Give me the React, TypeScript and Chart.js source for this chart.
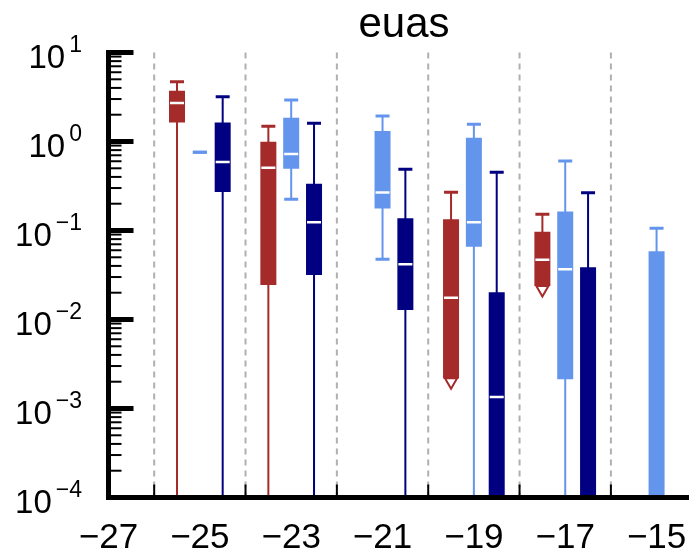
import React, { useEffect, useRef } from 'react';
import { Chart, registerables } from 'chart.js';

Chart.register(...registerables);

// value used for anything that falls below the 10^-4 floor of the axis
const LOW = 1e-5;

const titleText = 'euas';
const xTickValues = [-27, -25, -23, -21, -19, -17, -15];
const dividerValues = [-26, -24, -22, -20, -18, -16];
const yDecades = [-4, -3, -2, -1, 0, 1];

// red series
const redX = [-25.5, -23.5, -21.5, -19.5, -17.5, -15.5];
const redLow = [LOW, LOW, null, null, null, null];
const redQ1 = [1.63, 0.0244, null, 0.00218, 0.0238, null];
const redMed = [2.71, 0.508, null, 0.0175, 0.047, null];
const redQ3 = [3.72, 0.995, null, 0.134, 0.097, null];
const redHigh = [4.7, 1.48, null, 0.269, 0.152, null];
const redFloor = [null, null, null, 0.002, 0.0217, null];

// light blue series
const blueX = [-25, -23, -21, -19, -17, -15];
const blueLow = [0.757, 0.224, 0.0474, LOW, LOW, LOW];
const blueQ1 = [0.757, 0.494, 0.177, 0.0658, 0.00213, LOW];
const blueMed = [null, 0.724, 0.268, 0.124, 0.0366, LOW];
const blueQ3 = [0.757, 1.85, 1.31, 1.1, 0.163, 0.0583];
const blueHigh = [0.757, 2.93, 1.94, 1.56, 0.604, 0.106];
const blueFloor = [null, null, null, null, null, null];

// navy series
const navyX = [-24.5, -22.5, -20.5, -18.5, -16.5, -14.5];
const navyLow = [LOW, LOW, LOW, LOW, LOW, null];
const navyQ1 = [0.271, 0.0316, 0.0128, LOW, LOW, null];
const navyMed = [0.589, 0.124, 0.0417, 0.00135, LOW, null];
const navyQ3 = [1.63, 0.336, 0.137, 0.0202, 0.0386, null];
const navyHigh = [3.18, 1.6, 0.488, 0.451, 0.266, null];
const navyFloor = [null, null, null, null, null, null];

const RED = '#a52a2a';
const BLUE = '#6495ed';
const NAVY = '#000080';
const FONT = '"Liberation Sans", Arial, sans-serif';

type Arr = (number | null)[];

function seriesDatasets(color: string, xs: number[], lo: Arr, q1: Arr, med: Arr, q3: Arr, hi: Arr, floor: Arr) {
  const whisk: any[] = [];
  const box: any[] = [];
  const caps: any[] = [];
  const meds: any[] = [];
  const floors: any[] = [];
  xs.forEach((x, i) => {
    if (hi[i] != null) {
      const bottom = lo[i] != null ? lo[i] : q1[i];
      whisk.push({ x, y: [bottom, hi[i]] });
      caps.push({ x, y: hi[i] });
    }
    if (lo[i] != null) caps.push({ x, y: lo[i] });
    if (q1[i] != null && q3[i] != null) box.push({ x, y: [q1[i], q3[i]] });
    if (med[i] != null) meds.push({ x, y: med[i] });
    if (floor[i] != null) floors.push({ x, y: floor[i] });
  });
  return [
    { type: 'bar', data: whisk, backgroundColor: color, maxBarThickness: 2, grouped: false, order: 5 },
    { type: 'bar', data: box, backgroundColor: color, maxBarThickness: 16, grouped: false, order: 4 },
    { type: 'scatter', data: caps, pointStyle: 'line', pointRadius: 7, borderWidth: 3, borderColor: color, backgroundColor: color, order: 3 },
    { type: 'scatter', data: meds, pointStyle: 'line', pointRadius: 7, borderWidth: 2.5, borderColor: '#ffffff', order: 2 },
    { type: 'scatter', data: floors, pointStyle: 'triangle', rotation: 180, pointRadius: 7, borderWidth: 2, borderColor: color, backgroundColor: '#ffffff', order: 1 },
  ];
}

const axesPlugin = {
  id: 'axesDecor',
  beforeDatasetsDraw(chart: any) {
    const { ctx, chartArea } = chart;
    const xs = chart.scales.x;
    ctx.save();
    ctx.strokeStyle = '#b0b0b0';
    ctx.lineWidth = 2;
    ctx.setLineDash([6, 5]);
    dividerValues.forEach((v) => {
      const px = xs.getPixelForValue(v);
      ctx.beginPath();
      ctx.moveTo(px, chartArea.top);
      ctx.lineTo(px, chartArea.bottom);
      ctx.stroke();
    });
    ctx.restore();
  },
  afterDraw(chart: any) {
    const { ctx, chartArea } = chart;
    const xs = chart.scales.x;
    const ys = chart.scales.y;
    const L = chartArea.left;
    const B = chartArea.bottom;
    ctx.save();
    ctx.setLineDash([]);
    ctx.strokeStyle = '#000';
    ctx.lineCap = 'butt';
    // minor ticks
    ctx.lineWidth = 2;
    yDecades.slice(0, -1).forEach((e) => {
      for (let m = 2; m <= 9; m++) {
        const py = ys.getPixelForValue(m * Math.pow(10, e));
        ctx.beginPath();
        ctx.moveTo(L, py);
        ctx.lineTo(L + 13, py);
        ctx.stroke();
      }
    });
    // major ticks
    ctx.lineWidth = 5;
    yDecades.forEach((e) => {
      const py = ys.getPixelForValue(Math.pow(10, e));
      ctx.beginPath();
      ctx.moveTo(L - 2.5, py);
      ctx.lineTo(L + 25, py);
      ctx.stroke();
    });
    // axis lines
    ctx.beginPath();
    ctx.moveTo(L, chartArea.top - 2.5);
    ctx.lineTo(L, B + 2.5);
    ctx.stroke();
    ctx.beginPath();
    ctx.moveTo(L - 2.5, B);
    ctx.lineTo(chartArea.right, B);
    ctx.stroke();
    // x tick marks
    ctx.lineWidth = 2;
    dividerValues.forEach((v) => {
      const px = xs.getPixelForValue(v);
      ctx.beginPath();
      ctx.moveTo(px, B);
      ctx.lineTo(px, B - 13);
      ctx.stroke();
    });
    // x labels
    ctx.fillStyle = '#000';
    ctx.font = `35px ${FONT}`;
    ctx.textAlign = 'center';
    ctx.textBaseline = 'alphabetic';
    xTickValues.forEach((v) => {
      const px = xs.getPixelForValue(v);
      const txt = (v < 0 ? '\u2212' : '') + Math.abs(v);
      ctx.fillText(txt, px, 548);
    });
    // y labels: 10 with superscript exponent
    ctx.textAlign = 'left';
    yDecades.forEach((e) => {
      const py = ys.getPixelForValue(Math.pow(10, e));
      const exp = (e < 0 ? '\u2212' : '') + Math.abs(e);
      ctx.font = `33px ${FONT}`;
      const wBase = ctx.measureText('10').width;
      ctx.font = `23px ${FONT}`;
      const wExp = ctx.measureText(exp).width;
      const right = 82;
      const gap = 4;
      const x0 = right - wExp - gap - wBase;
      ctx.font = `33px ${FONT}`;
      ctx.fillText('10', x0, py + 15);
      ctx.font = `23px ${FONT}`;
      ctx.fillText(exp, x0 + wBase + gap, py - 1);
    });
    // title
    ctx.font = `42px ${FONT}`;
    ctx.textAlign = 'center';
    ctx.fillText(titleText, 404, 37);
    ctx.restore();
  },
};

export default function App() {
  const ref = useRef<HTMLCanvasElement>(null);
  useEffect(() => {
    if (!ref.current) return;
    const datasets = [
      ...seriesDatasets(RED, redX, redLow, redQ1, redMed, redQ3, redHigh, redFloor),
      ...seriesDatasets(BLUE, blueX, blueLow, blueQ1, blueMed, blueQ3, blueHigh, blueFloor),
      ...seriesDatasets(NAVY, navyX, navyLow, navyQ1, navyMed, navyQ3, navyHigh, navyFloor),
    ];
    const chart = new Chart(ref.current, {
      type: 'bar',
      data: { datasets: datasets as any },
      options: {
        animation: false,
        responsive: false,
        devicePixelRatio: 1,
        layout: { autoPadding: false, padding: { top: 52.5, left: 0, right: 0, bottom: 0 } },
        plugins: { legend: { display: false }, tooltip: { enabled: false }, title: { display: false } },
        scales: {
          x: {
            type: 'linear',
            offset: false,
            min: -27,
            max: -14.29,
            grid: { display: false, offset: false },
            border: { display: false },
            ticks: { display: false },
            afterFit: (s: any) => { s.height = 56.5; },
          },
          y: {
            type: 'logarithmic',
            min: 1e-4,
            max: 10,
            grid: { display: false },
            border: { display: false },
            ticks: { display: false },
            afterFit: (s: any) => { s.width = 108.5; },
          },
        },
      } as any,
      plugins: [axesPlugin],
    });
    return () => chart.destroy();
  }, []);
  return (
    <div style={{ position: 'fixed', left: 0, top: 0, width: 689, height: 554, background: '#fff' }}>
      <canvas ref={ref} width={689} height={554} style={{ display: 'block' }} />
    </div>
  );
}
